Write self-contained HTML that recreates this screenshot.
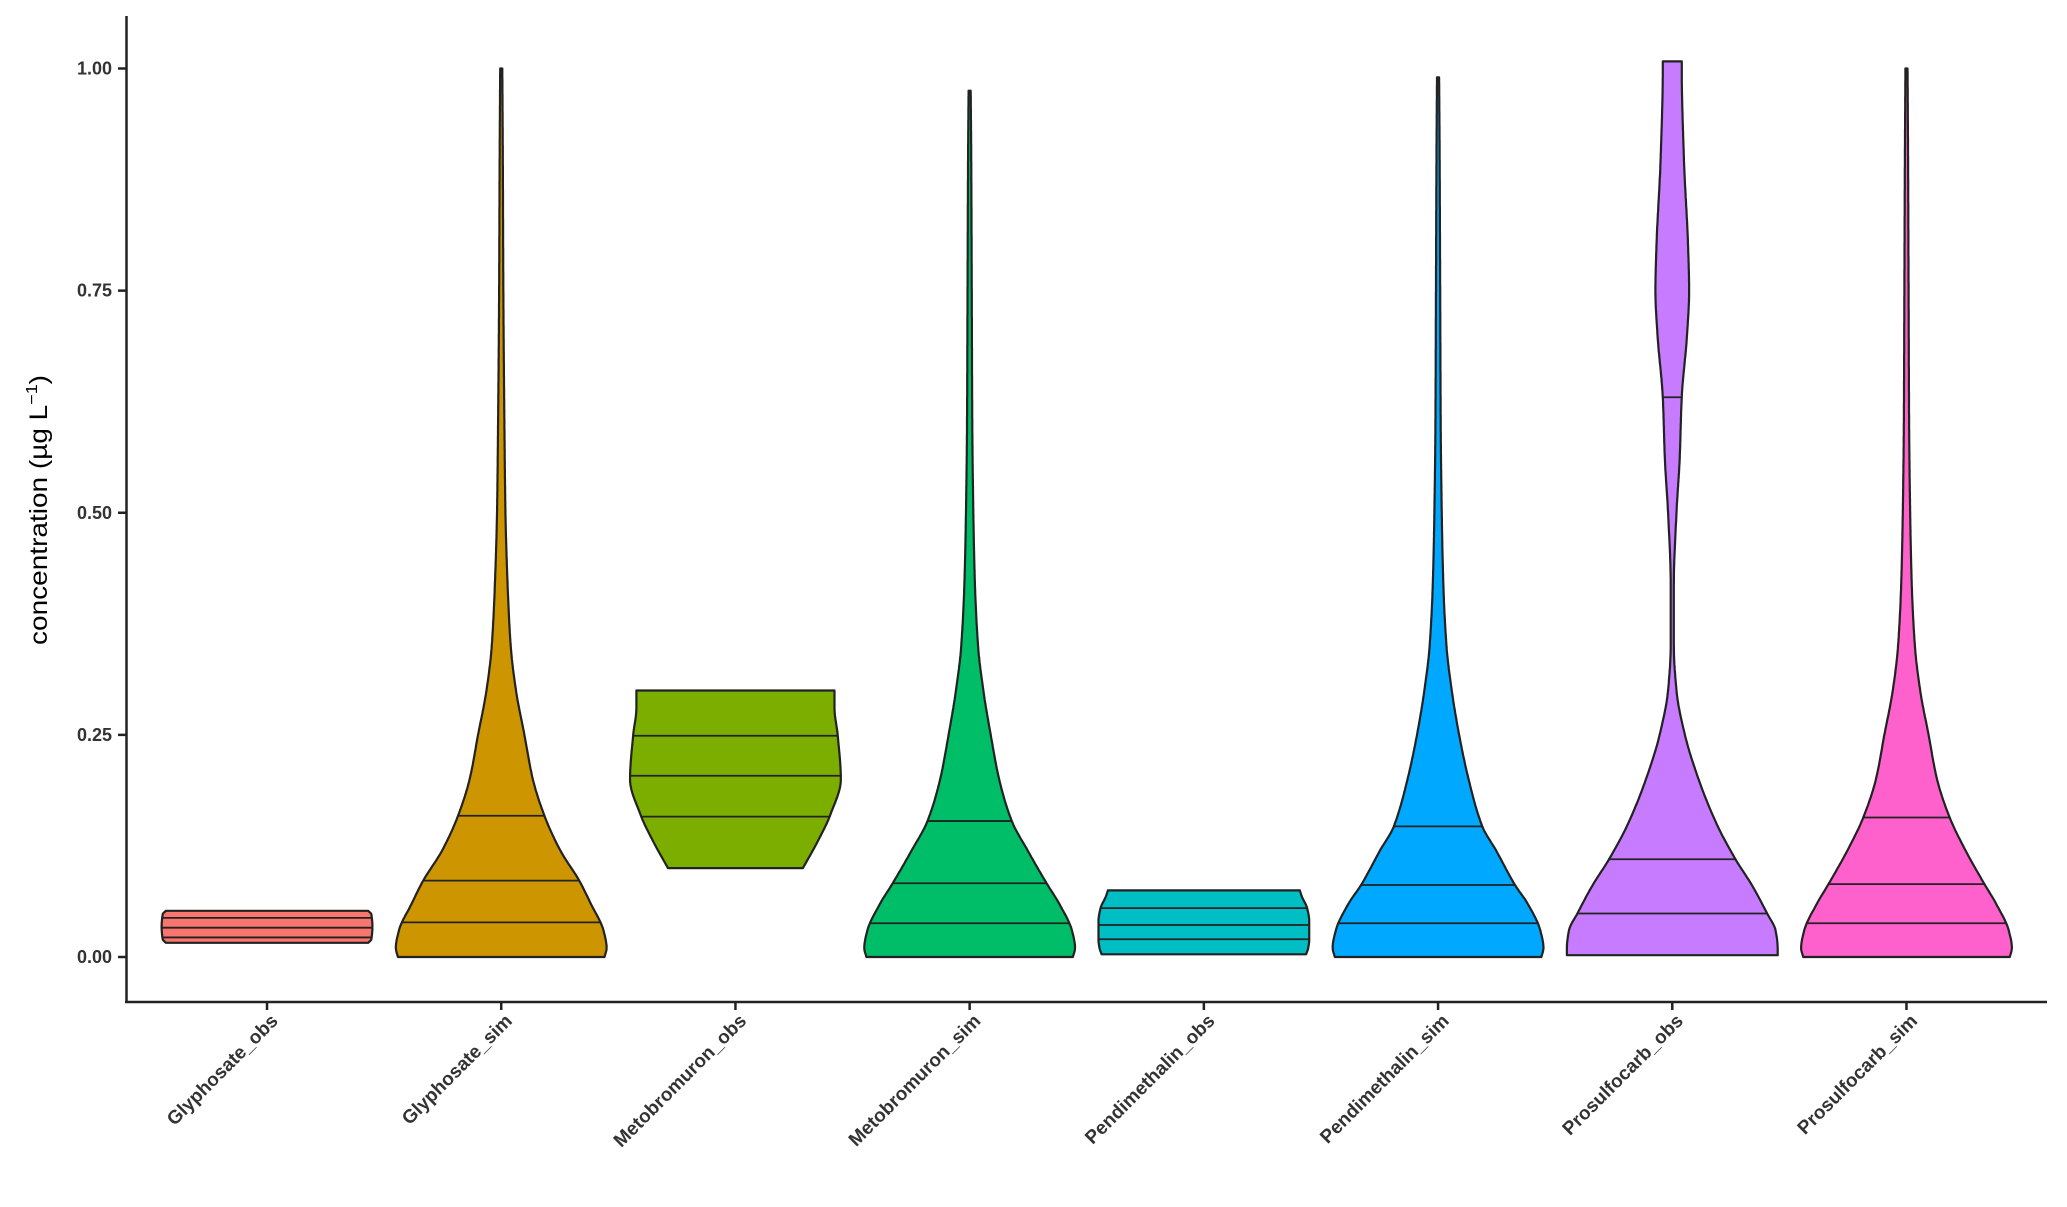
<!DOCTYPE html>
<html><head><meta charset="utf-8"><style>
body{margin:0;background:#fff}
svg text{font-family:"Liberation Sans",sans-serif}
</style></head><body>
<svg id="chart" width="2067" height="1202" viewBox="0 0 2067 1202" xmlns="http://www.w3.org/2000/svg">
<rect width="2067" height="1202" fill="#fff"/>
<g id="plot"></g>
<line x1="126.5" y1="16" x2="126.5" y2="1003" stroke="#222" stroke-width="2.5"/>
<line x1="125" y1="1002" x2="2047" y2="1002" stroke="#222" stroke-width="2.5"/>
<text transform="translate(47,510) rotate(-90)" text-anchor="middle" font-size="25" fill="#000" textLength="270" lengthAdjust="spacingAndGlyphs">concentration (µg L<tspan dy="-10" font-size="16">−1</tspan><tspan dy="10">)</tspan></text>
</svg>
<script>
const categories=["Glyphosate_obs","Glyphosate_sim","Metobromuron_obs","Metobromuron_sim","Pendimethalin_obs","Pendimethalin_sim","Prosulfocarb_obs","Prosulfocarb_sim"];
const colors=["#F8766D","#CD9600","#7CAE00","#00BE67","#00BFC4","#00A9FF","#C77CFF","#FF61CC"];
const yTicks=[0,0.25,0.5,0.75,1.0];
const yTickLabels=["0.00","0.25","0.50","0.75","1.00"];
// density knots: values and relative half-widths (0..1)
const densVals=[
 [0.016,0.02,0.034,0.048,0.052],
 [0,0.01,0.03,0.06,0.086,0.12,0.159,0.2,0.25,0.3,0.35,0.42,0.5,0.6,0.75,0.9,1.0],
 [0.1,0.13,0.16,0.2,0.25,0.28,0.3],
 [0,0.01,0.03,0.06,0.083,0.12,0.153,0.2,0.25,0.3,0.35,0.42,0.5,0.6,0.75,0.9,0.975],
 [0.003,0.01,0.02,0.04,0.055,0.068,0.075],
 [0,0.01,0.03,0.06,0.081,0.12,0.147,0.2,0.25,0.3,0.35,0.42,0.5,0.6,0.75,0.9,0.99],
 [0.002,0.01,0.03,0.049,0.08,0.11,0.15,0.2,0.25,0.3,0.35,0.42,0.5,0.56,0.63,0.7,0.75,0.8,0.9,1.0,1.008],
 [0,0.01,0.03,0.06,0.082,0.12,0.157,0.2,0.25,0.3,0.35,0.42,0.5,0.6,0.75,0.9,1.0]
];
const densWidths=[
 [0.96,0.99,1,0.99,0.96],
 [0.98,1,0.97,0.85,0.74,0.56,0.41,0.3,0.22,0.14,0.09,0.06,0.04,0.03,0.02,0.015,0.01],
 [0.64,0.78,0.9,1,0.97,0.94,0.94],
 [0.98,1,0.97,0.85,0.73,0.55,0.4,0.28,0.2,0.13,0.08,0.05,0.035,0.025,0.02,0.015,0.01],
 [0.97,0.99,1,1,0.98,0.93,0.91],
 [0.98,1,0.97,0.85,0.73,0.55,0.42,0.29,0.2,0.13,0.08,0.05,0.035,0.025,0.02,0.015,0.01],
 [1,1,0.98,0.9,0.76,0.6,0.42,0.25,0.12,0.04,0.015,0.015,0.04,0.07,0.09,0.14,0.16,0.15,0.11,0.09,0.09],
 [0.98,1,0.97,0.85,0.74,0.56,0.41,0.29,0.21,0.13,0.08,0.05,0.035,0.025,0.02,0.015,0.01]
];
const quantiles=[
 [0.022,0.033,0.044],
 [0.039,0.086,0.159],
 [0.158,0.204,0.249],
 [0.038,0.083,0.153],
 [0.02,0.036,0.055],
 [0.038,0.081,0.147],
 [0.049,0.11,0.63],
 [0.038,0.082,0.157]
];
const NS="http://www.w3.org/2000/svg";
const x0=126.5,x1=2047,y0=957,ypx=888.5;
const band=(x1-x0)/(categories.length-1+1.2);
const xScale=i=>x0+band*(0.6+i);
const yScale=v=>y0-v*ypx;
const maxHalf=band*0.45;
const plot=document.getElementById('plot');
const svg=document.getElementById('chart');
function slopes(vs,ws){const n=vs.length,d=[],m=[];
 for(let k=0;k<n-1;k++)d.push((ws[k+1]-ws[k])/(vs[k+1]-vs[k]));
 m[0]=d[0];m[n-1]=d[n-2];
 for(let k=1;k<n-1;k++){if(d[k-1]*d[k]<=0)m[k]=0;else m[k]=2/(1/d[k-1]+1/d[k]);}
 return m;}
function widthAt(i,v){const vs=densVals[i],ws=densWidths[i];
 if(v<=vs[0])return ws[0];
 if(v>=vs[vs.length-1])return ws[ws.length-1];
 const m=slopes(vs,ws);
 for(let k=1;k<vs.length;k++){if(v<=vs[k]){const h=vs[k]-vs[k-1],t=(v-vs[k-1])/h;
  const h00=2*t*t*t-3*t*t+1,h10=t*t*t-2*t*t+t,h01=-2*t*t*t+3*t*t,h11=t*t*t-t*t;
  return Math.max(0.004,h00*ws[k-1]+h10*h*m[k-1]+h01*ws[k]+h11*h*m[k]);}}
 return ws[ws.length-1];}
categories.forEach((c,i)=>{
 const cx=xScale(i),vs=densVals[i];
 const lo=vs[0],hi=vs[vs.length-1],N=400;
 const right=[],left=[];
 for(let k=0;k<=N;k++){const v=lo+(hi-lo)*k/N;const w=widthAt(i,v)*maxHalf;right.push([cx+w,yScale(v)]);left.push([cx-w,yScale(v)]);}
 const pts=right.concat(left.reverse());
 const p=document.createElementNS(NS,'path');
 p.setAttribute('d','M'+pts.map(q=>q[0].toFixed(1)+','+q[1].toFixed(1)).join('L')+'Z');
 p.setAttribute('fill',colors[i]);p.setAttribute('stroke','#222');p.setAttribute('stroke-width','2.2');p.setAttribute('stroke-linejoin','round');
 
 
 plot.appendChild(p);
 quantiles[i].forEach((q,j)=>{
  const w=widthAt(i,q)*maxHalf;
  const l=document.createElementNS(NS,'line');
  l.setAttribute('x1',cx-w);l.setAttribute('x2',cx+w);l.setAttribute('y1',yScale(q));l.setAttribute('y2',yScale(q));
  l.setAttribute('stroke','#222');l.setAttribute('stroke-width','1.8');
  
  
  plot.appendChild(l);
 });
 const t=document.createElementNS(NS,'line');
 t.setAttribute('x1',cx);t.setAttribute('x2',cx);t.setAttribute('y1',1002);t.setAttribute('y2',1010);
 t.setAttribute('stroke','#222');t.setAttribute('stroke-width','2.5');
 
 
 svg.appendChild(t);
 const tx=document.createElementNS(NS,'text');
 tx.setAttribute('transform','translate('+(cx+12)+',1022) rotate(-45)');
 tx.setAttribute('text-anchor','end');tx.setAttribute('font-size','19');tx.setAttribute('font-weight','bold');tx.setAttribute('fill','#333');
 tx.textContent=c;
 
 
 svg.appendChild(tx);
});
yTicks.forEach((v,k)=>{
 const y=yScale(v);
 const l=document.createElementNS(NS,'line');
 l.setAttribute('x1',118);l.setAttribute('x2',126.5);l.setAttribute('y1',y);l.setAttribute('y2',y);
 l.setAttribute('stroke','#222');l.setAttribute('stroke-width','2.5');
 
 
 svg.appendChild(l);
 const t=document.createElementNS(NS,'text');
 t.setAttribute('x',112);t.setAttribute('y',y+6);t.setAttribute('text-anchor','end');
 t.setAttribute('font-size','18');t.setAttribute('font-weight','bold');t.setAttribute('fill','#333');
 t.textContent=yTickLabels[k];
 
 
 svg.appendChild(t);
});
</script>
</body></html>
